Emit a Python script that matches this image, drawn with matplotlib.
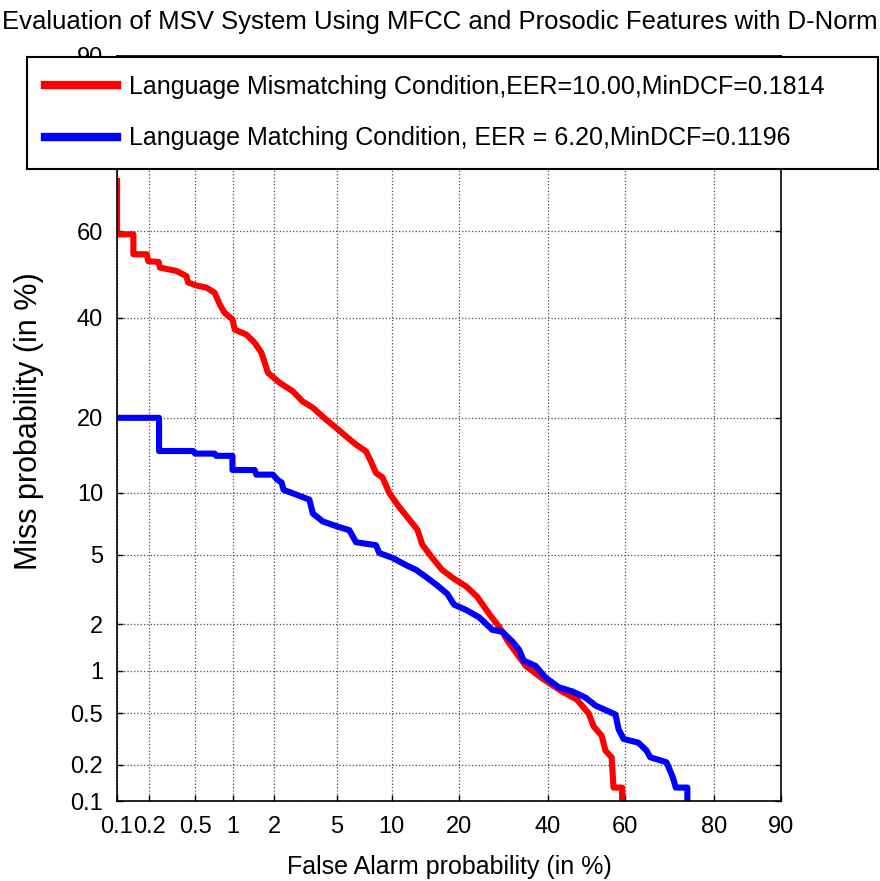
import math
import matplotlib
matplotlib.use("Agg")
import matplotlib.pyplot as plt
import numpy as np

plt.rcParams.update({
    "font.family": ["Liberation Sans", "DejaVu Sans"],
})

## parameters
fs_title = 18.5
fs_tick = 17
fs_xlab = 18
fs_ylab = 22
fs_leg = 18
lw0 = 4.4

col_mis = "#ff0000"
col_mat = "#0000ff"

##--------------- data (in %) ---------------##

# language mismatching condition
mis_fa = [0.1, 0.1, 0.143, 0.143, 0.19, 0.196, 0.243, 0.249, 0.349, 0.423, 0.437, 0.513,
          0.62, 0.72, 0.79, 0.86, 0.99, 1.03, 1.26, 1.45, 1.62, 1.71, 1.80, 2.17, 2.66,
          3.09, 3.59, 4.33, 4.97, 5.68, 6.47, 7.34, 7.81, 8.3, 8.98, 9.72, 10.9, 12.2,
          13.3, 14.0, 15.5, 17.1, 19.2, 21.4, 23.6, 26.1, 28.3, 30.5, 32.9, 34.5, 38.5,
          43.6, 47.5, 50.6, 51.9, 54.0, 55.0, 56.6, 57.1, 59.3, 59.3]
mis_miss = [70.8, 59.3, 59.3, 54.7, 54.7, 53.1, 52.9, 51.6, 50.8, 49.6, 48.1, 47.4,
            46.9, 45.7, 43.0, 41.1, 39.6, 37.3, 36.2, 34.4, 32.3, 30.2, 28.2, 26.25, 24.65,
            22.8, 21.7, 19.7, 18.4, 17.1, 15.9, 14.96, 13.6, 12.2, 11.67, 9.99, 8.6, 7.5,
            6.7, 5.64, 4.82, 4.15, 3.70, 3.36, 2.93, 2.32, 1.93, 1.53, 1.24, 1.08, 0.89,
            0.72, 0.63, 0.50, 0.40, 0.34, 0.26, 0.23, 0.13, 0.13, 0.1]

# language matching condition
mat_fa = [0.1, 0.245, 0.245, 0.48, 0.50, 0.72, 0.74, 0.99, 0.99, 1.45, 1.49, 1.95,
          2.10, 2.24, 2.31, 2.80, 3.41, 3.59, 4.13, 5.08, 5.93, 6.47, 8.30, 8.64, 10.1,
          11.9, 13.1, 14.6, 16.3, 18.0, 19.2, 21.4, 24.0, 26.8, 29.0, 31.4, 32.9, 34.0,
          36.9, 39.4, 42.8, 46.3, 49.8, 52.4, 57.6, 58.4, 59.7, 63.4, 65.4, 66.3, 70.1,
          71.5, 72.2, 74.7, 74.7]
mat_miss = [20.0, 20.0, 15.0, 15.0, 14.65, 14.65, 14.35, 14.35, 12.55, 12.55, 12.0, 12.0,
            11.4, 11.1, 10.3, 9.82, 9.31, 8.02, 7.36, 6.94, 6.67, 5.80, 5.60, 5.10, 4.81,
            4.37, 4.15, 3.78, 3.40, 3.04, 2.63, 2.45, 2.21, 1.85, 1.80, 1.55, 1.38, 1.17,
            1.08, 0.90, 0.77, 0.72, 0.65, 0.57, 0.49, 0.38, 0.32, 0.30, 0.26, 0.23, 0.21,
            0.16, 0.13, 0.13, 0.1]

lab_mis = "Language Mismatching Condition,EER=10.00,MinDCF=0.1814"
lab_mat = "Language Matching Condition, EER = 6.20,MinDCF=0.1196"

ticks = [0.1, 0.2, 0.5, 1, 2, 5, 10, 20, 40, 60, 80, 90]
tick_labels = ["0.1", "0.2", "0.5", "1", "2", "5", "10", "20", "40", "60", "80", "90"]
lims = [0.1, 90]


##--------------- probit scale ---------------##
z_grid = np.linspace(-8, 8, 20001)
cdf_grid = 0.5 * np.array([math.erfc(-z / math.sqrt(2)) for z in z_grid])


def probit(p):
    return np.interp(np.asarray(p, dtype=float) / 100.0, cdf_grid, z_grid)


def inv_probit(z):
    return 100.0 * np.interp(np.asarray(z, dtype=float), z_grid, cdf_grid)


##--------------- DET plot ---------------##
fig = plt.figure(figsize=(8.8, 8.81), dpi=100)
ax = fig.add_axes([117 / 880, 80 / 881, 664 / 880, 745 / 881])

ax.set_xscale("function", functions=(probit, inv_probit))
ax.set_yscale("function", functions=(probit, inv_probit))

ax.plot(mis_fa, mis_miss, color=col_mis, lw=lw0, label=lab_mis)
ax.plot(mat_fa, mat_miss, color=col_mat, lw=lw0, label=lab_mat)

ax.set_xlim(lims)
ax.set_ylim(lims)
ax.set_xticks(ticks)
ax.set_xticklabels(tick_labels)
ax.set_yticks(ticks)
ax.set_yticklabels(tick_labels)
ax.minorticks_off()
ax.tick_params(axis="both", which="major", direction="in", length=4, width=1,
               labelsize=fs_tick, top=True, right=True)
ax.tick_params(axis="x", pad=11)
ax.tick_params(axis="y", pad=10)
ax.grid(True, linestyle=":", color="0.3", lw=0.9)
for sp in ax.spines.values():
    sp.set_linewidth(1.2)

ax.set_xlabel("False Alarm probability (in %)", fontsize=fs_xlab)
ax.set_ylabel("Miss probability (in %)", fontsize=fs_ylab)
ax.xaxis.set_label_coords(0.5, -0.072)
ax.yaxis.set_label_coords(-0.11, 0.51)

fig.text(0.5, 1 - 22 / 881, "Evaluation of MSV System Using MFCC and Prosodic Features with D-Norm",
         ha="center", va="center", fontsize=fs_title)

leg = ax.legend(loc="upper left", bbox_to_anchor=(27 / 880, 0, 851 / 880, 1 - 57 / 881),
                bbox_transform=fig.transFigure, mode="expand", fontsize=fs_leg,
                fancybox=False, framealpha=1, edgecolor="black", borderpad=0.72,
                labelspacing=1.1, handlelength=2.9, handletextpad=0.45, borderaxespad=0)
leg.get_frame().set_linewidth(1.5)
for h in leg.get_lines():
    h.set_linewidth(6)

fig.savefig("out.png", dpi=100)
